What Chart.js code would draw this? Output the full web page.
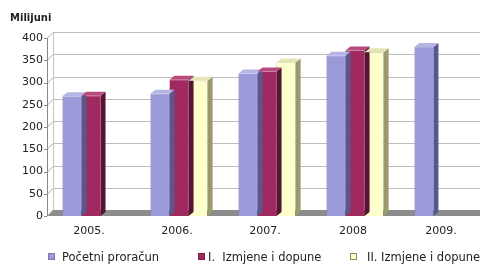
<!DOCTYPE html>
<html><head><meta charset="utf-8">
<script src="https://cdn.jsdelivr.net/npm/chart.js@4"></script>
<style>
html,body{margin:0;padding:0;background:#fff;overflow:hidden;width:480px;height:264px;}
#wrap{position:relative;width:480px;height:264px;overflow:hidden;}
canvas{position:absolute;left:0;top:0;}
#unit{position:absolute;left:10px;top:12px;font:bold 10px "DejaVu Sans";color:#222;}
.lg{position:absolute;top:250px;font:11.5px "DejaVu Sans";color:#222;white-space:pre;line-height:14px;}
.bx{position:absolute;top:253px;width:7px;height:7px;box-sizing:border-box;}
</style></head>
<body><div id="wrap"><canvas id="c" width="490" height="264"></canvas><div id="unit">Milijuni</div></div>
<script>
const categories = ["2005.", "2006.", "2007.", "2008", "2009."];
const seriesNames = ["Početni proračun", "I.  Izmjene i dopune", "II. Izmjene i dopune"];
const pocetni = [269, 275, 320, 360, 380];
const izmjene1 = [270, 306, 325, 372, null];
const izmjene2 = [null, 304, 345, 368, null];
const yTicks = [0, 50, 100, 150, 200, 250, 300, 350, 400];

const front = ["#9a9ad8", "#a02a60", "#ffffcc"];
const side  = ["#58588f", "#581234", "#9a9a6c"];
const top_  = ["#b4b4e6", "#b84a7c", "#e4e4b4"];
const edge  = ["#7a7ab6", "#7a1e48", "#8a8a60"];

const DX = 5, DY = -4;   // bar depth
const WX = 6, WY = -6;   // wall depth

const threeD = {
  id: 'threeD',
  beforeDatasetsDraw(chart) {
    const ctx = chart.ctx, y = chart.scales.y, a = chart.chartArea;
    const L = a.left, R = a.right + 10;
    ctx.save();
    const b = y.getPixelForValue(0);
    ctx.fillStyle = '#8c8c8c';
    ctx.beginPath();
    ctx.moveTo(L, b); ctx.lineTo(L + WX, b + WY); ctx.lineTo(R, b + WY); ctx.lineTo(R, b);
    ctx.closePath(); ctx.fill();
    ctx.lineWidth = 1;
    yTicks.forEach(v => {
      const p = Math.round(y.getPixelForValue(v)) + 0.5;
      ctx.strokeStyle = '#bdbdbd';
      if (v > 0) {
        ctx.beginPath(); ctx.moveTo(L + WX, p + WY); ctx.lineTo(R, p + WY); ctx.stroke();
      }
      ctx.strokeStyle = '#aaaaaa';
      ctx.beginPath(); ctx.moveTo(L, p); ctx.lineTo(L + WX, p + WY); ctx.stroke();
      ctx.strokeStyle = '#888';
      ctx.beginPath(); ctx.moveTo(L - 3, p); ctx.lineTo(L, p); ctx.stroke();
    });
    ctx.strokeStyle = '#c4c4c4';
    ctx.beginPath();
    ctx.moveTo(L + WX + 0.5, y.getPixelForValue(0) + WY);
    ctx.lineTo(L + WX + 0.5, y.getPixelForValue(400) + WY);
    ctx.stroke();
    ctx.strokeStyle = '#888';
    ctx.beginPath();
    ctx.moveTo(L + 0.5, y.getPixelForValue(0));
    ctx.lineTo(L + 0.5, y.getPixelForValue(400));
    ctx.stroke();
    ctx.restore();
  },
  afterDatasetsDraw(chart) {
    const ctx = chart.ctx;
    ctx.save();
    chart.data.datasets.forEach((ds, i) => {
      const meta = chart.getDatasetMeta(i);
      meta.data.forEach((el, j) => {
        if (ds.data[j] == null) return;
        const p = el.getProps(['x', 'y', 'base', 'width'], true);
        const x0 = p.x - p.width / 2, x1 = p.x + p.width / 2, yt = p.y, yb = p.base;
        ctx.fillStyle = side[i];
        ctx.beginPath();
        ctx.moveTo(x1, yt); ctx.lineTo(x1 + DX, yt + DY); ctx.lineTo(x1 + DX, yb + DY); ctx.lineTo(x1, yb);
        ctx.closePath(); ctx.fill();
        ctx.fillStyle = top_[i];
        ctx.beginPath();
        ctx.moveTo(x0, yt); ctx.lineTo(x0 + DX, yt + DY); ctx.lineTo(x1 + DX, yt + DY); ctx.lineTo(x1, yt);
        ctx.closePath(); ctx.fill();
      });
    });
    ctx.restore();
  }
};

new Chart(document.getElementById('c'), {
  type: 'bar',
  data: {
    labels: categories,
    datasets: [pocetni, izmjene1, izmjene2].map((d, i) => ({
      label: seriesNames[i], data: d,
      backgroundColor: front[i], borderColor: edge[i], borderWidth: 0.5,
      categoryPercentage: 0.65, barPercentage: 1.0
    }))
  },
  options: {
    responsive: false, animation: false, devicePixelRatio: 1,
    layout: { padding: { top: 38, right: 3, left: 0, bottom: 0 } },
    plugins: { legend: { display: false }, tooltip: { enabled: false } },
    scales: {
      x: {
        grid: { display: false, drawTicks: false }, border: { display: false },
        ticks: { font: { family: 'DejaVu Sans', size: 11 }, color: '#222', padding: 9, labelOffset: -2, maxRotation: 0 },
        afterFit(s) { s.height = 48; }
      },
      y: {
        min: 0, max: 400,
        grid: { display: false, drawTicks: false }, border: { display: false },
        ticks: { stepSize: 50, font: { family: 'DejaVu Sans', size: 11 }, color: '#222', padding: 4 },
        afterFit(s) { s.width = 47; }
      }
    }
  },
  plugins: [threeD]
});

const wrap = document.getElementById('wrap');
const boxX = [48, 198, 350], textX = [62, 208, 367];
seriesNames.forEach((n, i) => {
  const b = document.createElement('div'); b.className = 'bx';
  b.style.left = boxX[i] + 'px'; b.style.background = front[i];
  b.style.border = '1px solid ' + edge[i];
  wrap.appendChild(b);
  const t = document.createElement('div'); t.className = 'lg';
  t.style.left = textX[i] + 'px'; t.textContent = n;
  wrap.appendChild(t);
});
</script></body></html>
